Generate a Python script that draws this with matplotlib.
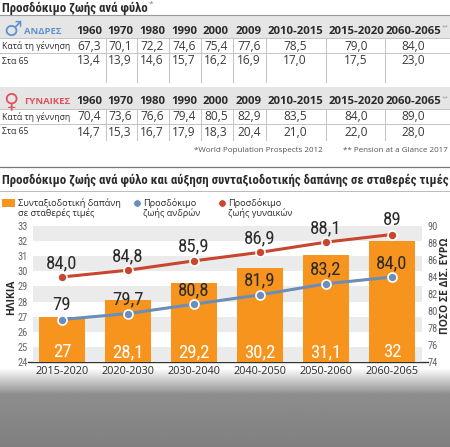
import numpy as np
import matplotlib
matplotlib.use('Agg')
import matplotlib.pyplot as plt
from matplotlib import font_manager
from matplotlib.patches import Rectangle


def have(name):
    try:
        font_manager.findfont(font_manager.FontProperties(family=name),
                              fallback_to_default=False)
        return True
    except ValueError:
        return False


narrow = next((f for f in ['Liberation Sans Narrow', 'Roboto Condensed', 'Roboto'] if have(f)), 'DejaVu Sans')
sans = next((f for f in ['Open Sans', 'Noto Sans'] if have(f)), 'DejaVu Sans')
plt.rcParams['font.family'] = [sans, 'DejaVu Sans']

# table data
years = ['1960', '1970', '1980', '1990', '2000', '2009', '2010-2015', '2015-2020', '2060-2065']
men_birth = [67.3, 70.1, 72.2, 74.6, 75.4, 77.6, 78.5, 79.0, 84.0]
men_65 = [13.4, 13.9, 14.6, 15.7, 16.2, 16.9, 17.0, 17.5, 23.0]
women_birth = [70.4, 73.6, 76.6, 79.4, 80.5, 82.9, 83.5, 84.0, 89.0]
women_65 = [14.7, 15.3, 16.7, 17.9, 18.3, 20.4, 21.0, 22.0, 28.0]
row_names = ['Κατά τη γέννηση', 'Στα 65']

# chart data
periods = ['2015-2020', '2020-2030', '2030-2040', '2040-2050', '2050-2060', '2060-2065']
spending = [27, 28.1, 29.2, 30.2, 31.1, 32]
men_life = [79, 79.7, 80.8, 81.9, 83.2, 84.0]
women_life = [84.0, 84.8, 85.9, 86.9, 88.1, 89]

ORANGE = '#f7941d'
BLUE = '#6b8db8'
RED = '#c9452f'
DARK = '#2b2b2b'

col_x = [89, 120, 152, 184, 216, 249, 295, 356, 413]
sep_x = [106, 137, 169, 201, 233, 266, 326, 385]


def gr(v):
    return str(v).replace('.', ',')


fig = plt.figure(figsize=(4.5, 4.47), dpi=100)
bg = fig.add_axes([0, 0, 1, 1])
bg.set_xlim(0, 450)
bg.set_ylim(447, 0)
bg.axis('off')

# photo area at the bottom, only a grey fade
fade = np.linspace(0, 1, 80)
shade = 1.0 - 0.42 * np.clip(fade * 3.0, 0, 1) - 0.08 * fade
bg.imshow(shade[:, None], cmap='gray', vmin=0, vmax=1, aspect='auto',
          extent=(0, 450, 447, 368), zorder=0)

title = bg.text(2, 8, 'Προσδόκιμο ζωής ανά φύλο', fontsize=8.2, fontweight='bold',
                color=DARK, va='center', family=[narrow, 'DejaVu Sans'])
bg.text(149, 4, '*', fontsize=6, color='#888', va='center')
bg.plot([0, 450], [15, 15], color='#999', lw=0.8)


def table(y0, label, color, symbol, birth, at65, bottom):
    bg.add_patch(Rectangle((0, y0 - 14), 450, 22, color='#e5e5e5', lw=0, zorder=1))
    bg.text(3, y0 + 0.5, symbol, fontsize=15, color=color, va='center', ha='left',
            family='DejaVu Sans', zorder=3)
    bg.text(24, y0 + 1, label, fontsize=6.8, color=color, va='center',
            fontweight='bold', zorder=3)
    for cx, yr in zip(col_x, years):
        bg.text(cx, y0 + 1, yr, fontsize=8.2, color=DARK, ha='center',
                va='center', fontweight='bold', zorder=3)
    bg.text(442, y0 - 3, '**', fontsize=4.5, color='#999', va='center', zorder=3)
    for yy in (y0 + 8, y0 + 23):
        bg.plot([0, 450], [yy, yy], color='#c4c4c4', lw=0.7, zorder=2)
    for sx in sep_x:
        bg.plot([sx, sx], [y0 + 8, bottom], color='#c4c4c4', lw=0.7, zorder=2)
    for k, vals in enumerate((birth, at65)):
        ry = y0 + 16 + 15 * k
        bg.text(2, ry, row_names[k], fontsize=6.2, color=DARK, va='center')
        for cx, v in zip(col_x, vals):
            bg.text(cx, ry, gr('%.1f' % v), fontsize=8.6, color='#3a3a3a',
                    ha='center', va='center')


table(30, 'ΑΝΔΡΕΣ', '#5f93cf', '♂', men_birth, men_65, 82)
table(101, 'ΓΥΝΑΙΚΕΣ', '#e0525c', '♀', women_birth, women_65, 140)

bg.text(323, 151, '*World Population Prospects 2012', fontsize=5.8,
        color='#555', ha='right', va='center')
bg.text(448, 151, '** Pension at a Glance 2017', fontsize=5.8,
        color='#555', ha='right', va='center')

bg.plot([0, 450], [167, 167], color='#777', lw=0.9)
sub = bg.text(2, 180, 'Προσδόκιμο ζωής ανά φύλο και αύξηση συνταξιοδοτικής δαπάνης σε σταθερές τιμές',
              fontsize=8.4, fontweight='bold', color=DARK, va='center',
              family=[narrow, 'DejaVu Sans'])
bg.plot([0, 450], [191, 191], color='#bbb', lw=0.7)

# fit the two titles to their width in the picture
fig.canvas.draw()
r = fig.canvas.get_renderer()
for t, target in ((sub, 440), (title, 145)):
    w = t.get_window_extent(r).width
    t.set_fontsize(t.get_fontsize() * target / w)

# legend
bg.add_patch(Rectangle((2, 199), 13, 8, color=ORANGE, lw=0))
bg.text(18, 203, 'Συνταξιοδοτική δαπάνη', fontsize=6.6, color=DARK, va='center')
bg.text(18, 213, 'σε σταθερές τιμές', fontsize=6.6, color=DARK, va='center')
bg.scatter([137], [203], s=30, color=BLUE, edgecolor='white', lw=0.6, zorder=3)
bg.text(143, 203, 'Προσδόκιμο', fontsize=6.6, color=DARK, va='center')
bg.text(143, 213, 'ζωής ανδρών', fontsize=6.6, color=DARK, va='center')
bg.scatter([222], [203], s=30, color=RED, edgecolor='white', lw=0.6, zorder=3)
bg.text(228, 203, 'Προσδόκιμο', fontsize=6.6, color=DARK, va='center')
bg.text(228, 213, 'ζωής γυναικών', fontsize=6.6, color=DARK, va='center')

# chart
ax = fig.add_axes([33 / 450, 1 - 362 / 447, (422 - 33) / 450, (362 - 226) / 447])
ax.patch.set_alpha(0)
x = np.arange(len(periods))
for lo in [24, 26, 28, 30, 32]:
    ax.axhspan(lo, lo + 1, color='#ebebeb', lw=0, zorder=0)
ax.bar(x, spending, width=0.71, color=ORANGE, zorder=2)
ax.set_xlim(-0.44, 5.455)
ax.set_ylim(24, 33)
ax.set_yticks(range(24, 34))
ax.set_xticks(x, periods)
ax.tick_params(axis='y', length=0, pad=4, labelsize=7.5, labelcolor='#666')
ax.tick_params(axis='x', length=0, pad=3, labelsize=7.8, labelcolor=DARK)
for t in ax.get_yticklabels():
    t.set_family([narrow, 'DejaVu Sans'])
for s in ax.spines.values():
    s.set_visible(False)
for i, v in enumerate(spending):
    ax.annotate(gr(v), (i, 24), xytext=(0, 3.6), textcoords='offset points',
                ha='center', va='baseline', color='white', fontsize=13.5,
                family=[narrow, 'DejaVu Sans'])

ax2 = ax.twinx()
ax2.set_ylim(74, 90)
ax2.set_yticks(range(74, 91, 2))
ax2.tick_params(axis='y', length=0, pad=4, labelsize=7.5, labelcolor='#666')
for t in ax2.get_yticklabels():
    t.set_family([narrow, 'DejaVu Sans'])
for s in ax2.spines.values():
    s.set_visible(False)
for vals, c in ((men_life, BLUE), (women_life, RED)):
    ax2.plot(x, vals, color=c, lw=2.2, marker='o', ms=6.5, mec='white',
             mew=1.2, zorder=3)
    for i, v in enumerate(vals):
        ax2.annotate(gr(v), (i, v), xytext=(0, 6.5), textcoords='offset points',
                     ha='center', va='baseline', color=DARK, fontsize=13.5,
                     family=[narrow, 'DejaVu Sans'])

bg.plot([28, 428], [362, 362], color='#333', lw=1, zorder=5)
bg.text(12, 297, 'ΗΛΙΚΙΑ', rotation=90, fontsize=7.5, fontweight='bold',
        color=DARK, ha='center', va='center')
bg.text(445, 286, 'ΠΟΣΟ ΣΕ ΔΙΣ. ΕΥΡΩ', rotation=90, fontsize=7.5,
        fontweight='bold', color=DARK, ha='center', va='center')

fig.savefig('out.png', dpi=100)
